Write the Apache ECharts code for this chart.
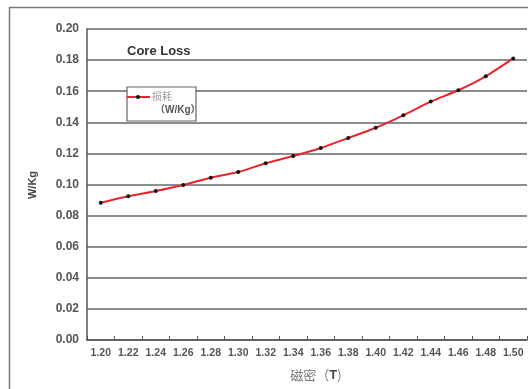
<!DOCTYPE html>
<html>
<head>
<meta charset="utf-8">
<script src="https://cdn.jsdelivr.net/npm/echarts@6/dist/echarts.min.js"></script>
<style>
html,body{margin:0;padding:0;background:#fff;}
#chart{width:528px;height:389px;}
</style>
</head>
<body>
<div id="chart"></div>
<script>
var categories = ['1.20','1.22','1.24','1.26','1.28','1.30','1.32','1.34','1.36','1.38','1.40','1.42','1.44','1.46','1.48','1.50'];
var lossValues = [0.0883,0.0924,0.0958,0.0997,0.1044,0.1080,0.1137,0.1183,0.1235,0.1299,0.1365,0.1445,0.1533,0.1606,0.1696,0.1811];
var yTicks = [0, 0.02, 0.04, 0.06, 0.08, 0.10, 0.12, 0.14, 0.16, 0.18, 0.20];

var chart = echarts.init(document.getElementById('chart'), null, {renderer:'canvas'});
var fam = 'Liberation Sans, Arial, sans-serif';
chart.setOption({
  animation:false,
  backgroundColor:'#fff',
  grid:{left:87, top:29, right:1, bottom:49, show:false},
  xAxis:{
    type:'category',
    data:categories,
    boundaryGap:true,
    axisLine:{show:true, lineStyle:{color:'#555', width:1.5}},
    axisTick:{show:true, inside:true, length:4, lineStyle:{color:'#555', width:1}},
    axisLabel:{margin:8, interval:0, color:'#555', fontFamily:fam, fontWeight:'bold', fontSize:10.5},
    splitLine:{show:false}
  },
  yAxis:{
    type:'value',
    min:yTicks[0], max:yTicks[yTicks.length-1], interval:0.02,
    axisLine:{show:true, lineStyle:{color:'#555', width:1.5}},
    axisTick:{show:false},
    axisLabel:{margin:8, color:'#555', fontFamily:fam, fontWeight:'bold', fontSize:12, formatter:function(v){return v.toFixed(2);}},
    splitLine:{show:true, lineStyle:{color:'#666', width:1.5}}
  },
  series:[{
    type:'line',
    name:'损耗（W/Kg）',
    data:lossValues,
    smooth:0.25,
    symbol:'circle',
    symbolSize:4,
    lineStyle:{color:'#e8252d', width:2},
    itemStyle:{color:'#111'}
  }],
  graphic:[
    {type:'rect', shape:{x:9.5, y:7.5, width:540, height:400}, style:{fill:null, stroke:'#777', lineWidth:1.5}, z:-1},
    {type:'text', x:127, y:45, style:{text:'Core Loss', font:'bold 13px Liberation Sans, Arial, sans-serif', fill:'#333'}},
    {type:'rect', shape:{x:127, y:87, width:69, height:34}, style:{fill:'#fff', stroke:'#666', lineWidth:1.2}, z:10},
    {type:'line', shape:{x1:127, y1:97, x2:150, y2:97}, style:{stroke:'#e8252d', lineWidth:2}, z:11},
    {type:'circle', shape:{cx:138, cy:97, r:2}, style:{fill:'#111'}, z:12},
    {type:'text', x:152, y:91, style:{text:'损耗', font:'10px Noto Sans CJK SC, sans-serif', fill:'#999'}, z:11},
    {type:'text', x:155, y:105, style:{text:'（W/Kg）', font:'bold 10px Liberation Sans, Noto Sans CJK SC, sans-serif', fill:'#555'}, z:11},
    {type:'text', x:33, y:185, rotation:Math.PI/2, style:{text:'W/Kg', font:'bold 11px Liberation Sans, Arial, sans-serif', fill:'#444', align:'center', verticalAlign:'middle'}},
    {type:'text', x:316, y:375, style:{
      text:'{a|磁密（}{b|T}{a|)}', align:'center', verticalAlign:'middle',
      rich:{
        a:{font:'13px Noto Sans CJK SC, sans-serif', fill:'#777'},
        b:{font:'bold 13px Liberation Sans, Arial, sans-serif', fill:'#444'}
      }
    }}
  ]
});
</script>
</body>
</html>
